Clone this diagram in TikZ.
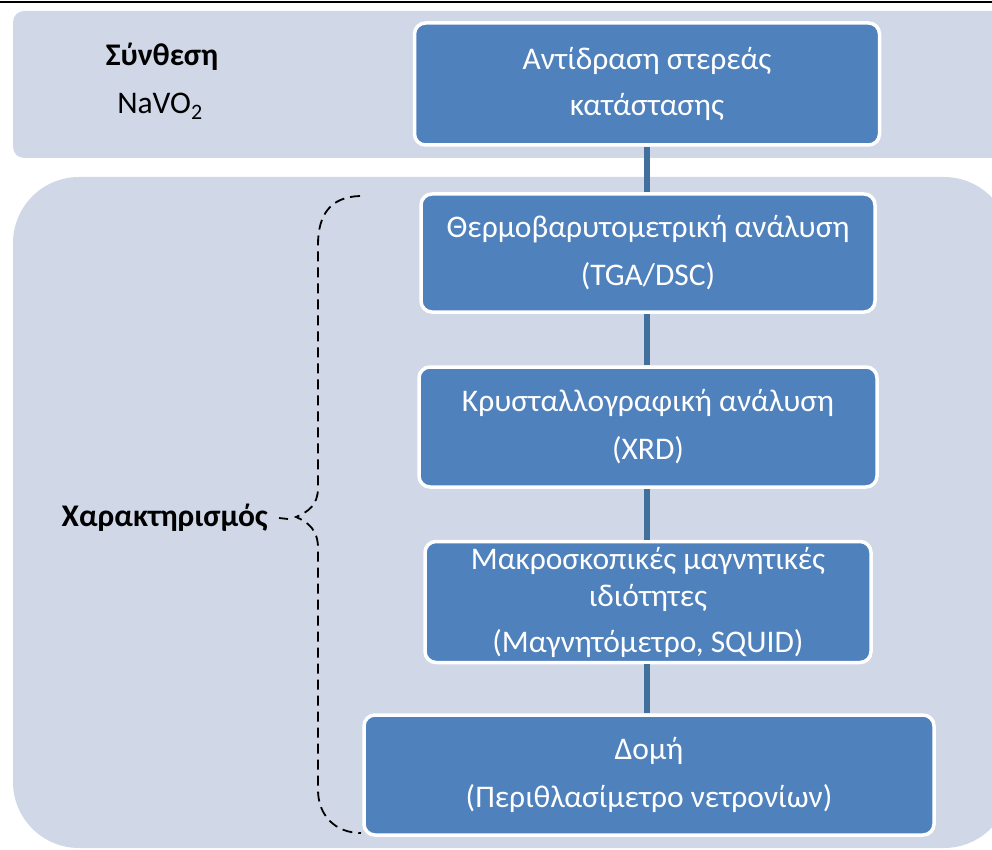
\documentclass[tikz,border=0pt]{standalone}
\usepackage{fontspec}
\setmainfont{Carlito}
\definecolor{panel}{HTML}{D0D8E8}
\definecolor{boxblue}{HTML}{4F81BD}
\definecolor{linkblue}{HTML}{41709C}
\begin{document}
\begin{tikzpicture}[x=1pt,y=-1pt,
  stepbox/.style={draw=white,line width=3.5pt,fill=boxblue,rounded corners=11pt,
    text=white,align=center,inner sep=0pt,
    font=\fontsize{31.5}{37}\selectfont},
  link/.style={draw=linkblue,line width=6pt},
  sidelabel/.style={font=\fontsize{31.5}{37}\selectfont,inner sep=0pt,align=center},
  bracestyle/.style={draw=black,line width=1.8pt,dash pattern=on 10pt off 6pt}]
\useasboundingbox (0,0) rectangle (992,850);
% rule along the top edge
\draw[line width=2pt] (0,2) -- (992,2);
% background panels
\fill[panel,rounded corners=11pt] (13,11) rectangle (1040,158);
\fill[panel,rounded corners=66pt] (13,177) rectangle (1010,848);
% process steps
\node[stepbox,minimum width=465pt,minimum height=122pt] (s1) at (647,84)
  {Αντίδραση στερεάς\\[9pt]κατάστασης};
\node[stepbox,minimum width=454pt,minimum height=118pt] (s2) at (648,253)
  {Θερμοβαρυτομετρική ανάλυση\\[11pt](TGA/DSC)};
\node[stepbox,minimum width=458pt,minimum height=120pt] (s3) at (648,427)
  {Κρυσταλλογραφική ανάλυση\\[11pt](XRD)};
\node[stepbox,minimum width=446pt,minimum height=121pt] (s4) at (648,602)
  {Μακροσκοπικές μαγνητικές\\ιδιότητες\\[9pt](Μαγνητόμετρο, SQUID)};
\node[stepbox,minimum width=570pt,minimum height=120pt] (s5) at (649,775)
  {Δομή\\[11pt](Περιθλασίμετρο νετρονίων)};
% vertical links between steps
\draw[link] (s1.south) -- (s1.south |- s2.north);
\draw[link] (s1.south |- s2.south) -- (s1.south |- s3.north);
\draw[link] (s1.south |- s3.south) -- (s1.south |- s4.north);
\draw[link] (s1.south |- s4.south) -- (s1.south |- s5.north);
% labels on the left
\node[sidelabel,font=\fontsize{31.5}{37}\selectfont\bfseries] (syn) at (162,57) {Σύνθεση};
\node[sidelabel] (navo) at (160,106) {NaVO\textsubscript{2}};
\node[sidelabel,font=\fontsize{31.5}{37}\selectfont\bfseries,anchor=east] (char) at (268,518) {Χαρακτηρισμός};
% dashed brace grouping the characterisation steps
\coordinate (btop) at (360,196);
\coordinate (bbot) at (361,833);
\coordinate (btip) at (296,517);
\draw[bracestyle] (btop) .. controls (330,197) and (318,215) .. (318,245)
  -- (318,488) .. controls (318,505) and (308,512) .. (btip)
  .. controls (308,522) and (318,530) .. (318,548)
  -- (318,790) .. controls (318,815) and (335,833) .. (bbot);
\draw[line width=1.8pt] (char.east) ++(11,0) coordinate (tipa) -- ++(9,1);
\end{tikzpicture}
\end{document}
